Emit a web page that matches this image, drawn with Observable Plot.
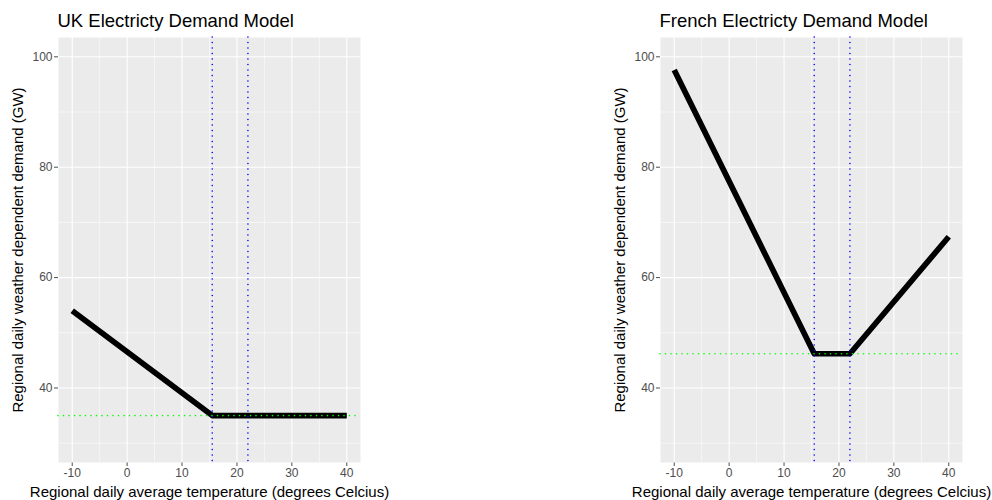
<!DOCTYPE html>
<html>
<head>
<meta charset="utf-8">
<script src="https://cdn.jsdelivr.net/npm/d3@7"></script>
<script src="https://cdn.jsdelivr.net/npm/@observablehq/plot@0.6"></script>
<style>
  html, body { margin: 0; padding: 0; background: #fff; }
  #chart { position: relative; width: 992px; height: 500px; overflow: hidden; }
  #chart svg { position: absolute; top: 0; overflow: visible; }
</style>
</head>
<body>
<div id="chart"></div>
<script>
// Piecewise-linear demand models: temperature (°C) -> weather-dependent demand (GW)
const ukTemps = [-10, 15.5, 40];
const ukDemand = [54, 35, 35];
const frTemps = [-10, 15.5, 22, 40];
const frDemand = [97.6, 46.2, 46.2, 67.4];

// Comfort band (no heating / cooling) and baseline demand levels
const heatThreshold = 15.5;
const coolThreshold = 22;
const ukBase = 35;
const frBase = 46.2;

// Axis ticks and grid
const xTicks = [-10, 0, 10, 20, 30, 40];
const xMinor = [-5, 5, 15, 25, 35];
const yTicks = [40, 60, 80, 100];
const yMinor = [30, 50, 70, 90];

const titles = ["UK Electricty Demand Model", "French Electricty Demand Model"];
const xLabel = "Regional daily average temperature (degrees Celcius)";
const yLabel = "Regional daily weather dependent demand (GW)";

const font = "Liberation Sans, Arial, Helvetica, sans-serif";

// dotted reference lines: round dots spaced like a ggplot "dotted" linetype
const dotted = {strokeWidth: 1.6, strokeDasharray: "0 5.5", strokeLinecap: "round"};

function panel({title, temps, demand, base, marginLeft, marginRight, left}) {
  const points = temps.map((t, i) => ({t, d: demand[i]}));
  const chart = Plot.plot({
    width: 496,
    height: 500,
    marginLeft,
    marginRight,
    marginTop: 37,
    marginBottom: 38,
    style: {fontFamily: font, fontSize: "12px", color: "#4D4D4D", background: "transparent"},
    x: {domain: [-12.5, 42.5], ticks: xTicks, tickSize: 4, tickPadding: 2, tickFormat: d => d < 0 ? "-" + Math.abs(d) : String(d), label: null},
    y: {domain: [26.5, 103.5], ticks: yTicks, tickSize: 4, tickPadding: 2, label: null},
    marks: [
      Plot.frame({fill: "#EBEBEB", stroke: null}),
      Plot.ruleX(xMinor, {stroke: "white", strokeWidth: 0.55}),
      Plot.ruleY(yMinor, {stroke: "white", strokeWidth: 0.55}),
      Plot.ruleX(xTicks, {stroke: "white", strokeWidth: 1.1}),
      Plot.ruleY(yTicks, {stroke: "white", strokeWidth: 1.1}),
      Plot.line(points, {x: "t", y: "d", stroke: "black", strokeWidth: 5.7, strokeLinejoin: "round", strokeLinecap: "butt"}),
      Plot.ruleX([heatThreshold, coolThreshold], {stroke: "blue", ...dotted}),
      Plot.ruleY([base], {stroke: "#00FF00", ...dotted}),
      Plot.text([title], {text: d => d, frameAnchor: "top-left", textAnchor: "start", dx: -1, dy: -11, lineAnchor: "bottom", fontSize: 18.5, fill: "black"}),
      Plot.text([xLabel], {text: d => d, frameAnchor: "bottom", textAnchor: "middle", lineAnchor: "bottom", dy: 34, fontSize: 15, fill: "black"}),
      Plot.text([yLabel], {text: d => d, frameAnchor: "left", textAnchor: "middle", lineAnchor: "middle", rotate: -90, dx: -40, fontSize: 15, fill: "black"})
    ]
  });
  chart.style.left = left + "px";
  return chart;
}

const root = document.getElementById("chart");
root.appendChild(panel({title: titles[0], temps: ukTemps, demand: ukDemand, base: ukBase, marginLeft: 58, marginRight: 136, left: 0}));
root.appendChild(panel({title: titles[1], temps: frTemps, demand: frDemand, base: frBase, marginLeft: 164, marginRight: 30, left: 496}));
</script>
</body>
</html>
